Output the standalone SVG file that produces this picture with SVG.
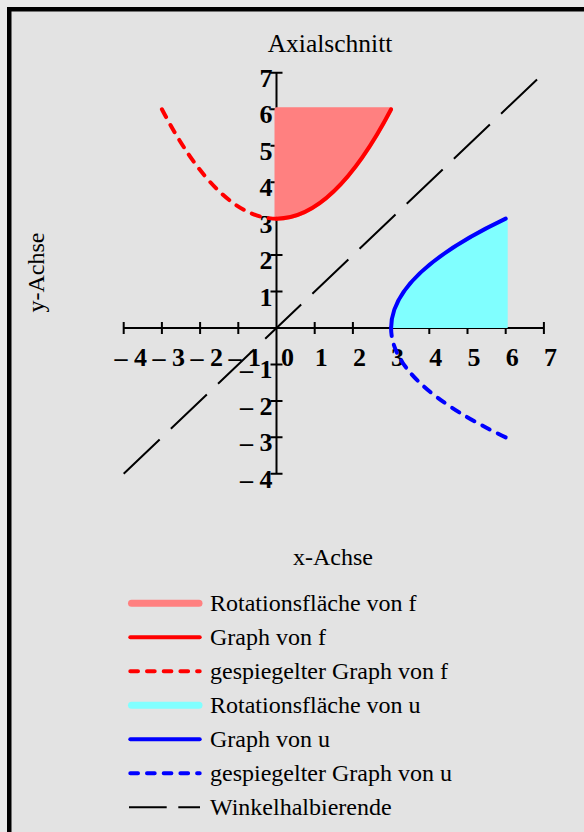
<svg xmlns="http://www.w3.org/2000/svg" width="584" height="832" viewBox="0 0 584 832">
<style>
.lbl{font-family:"Liberation Serif","Times New Roman",serif;font-size:24px;fill:#000}
.num{font-family:"Liberation Serif","Times New Roman",serif;font-size:26px;font-weight:bold;fill:#000}
.ax{stroke:#000;stroke-width:2;fill:none}
.red{stroke:#ff0000;stroke-width:4;fill:none;stroke-linecap:round}
.blue{stroke:#0000ff;stroke-width:4;fill:none;stroke-linecap:round}
.dash{stroke-dasharray:8.5 9}
.ldash{stroke-dasharray:7.7 9}
</style>
<g id="frame">
<rect x="0" y="0" width="584" height="832" fill="#eaeaea"/>
<rect x="7" y="7" width="577" height="825" fill="#000"/>
<rect x="11.5" y="11.5" width="572.5" height="820.5" fill="#e3e3e3"/>
</g>
<g id="titles">
<text class="lbl" x="330" y="52" text-anchor="middle" style="font-size:25.5px">Axialschnitt</text>
<text class="lbl" x="333" y="565" text-anchor="middle">x-Achse</text>
<text class="lbl" transform="translate(43.5,272.5) rotate(-90)" text-anchor="middle">y-Achse</text>
</g>
<g id="axes">
<path class="ax" d="M123.7,328H543.9M276.5,72.85V473.8"/>
<path class="ax" d="M123.7,322v12M161.9,322v12M200.1,322v12M238.3,322v12M314.7,322v12M352.9,322v12M391.1,322v12M429.3,322v12M467.5,322v12M505.7,322v12M543.9,322v12"/>
<path class="ax" d="M270.5,72.85h12M270.5,109.3h12M270.5,145.75h12M270.5,182.2h12M270.5,218.65h12M270.5,255.1h12M270.5,291.55h12M270.5,364.45h12M270.5,400.9h12M270.5,437.35h12M270.5,473.8h12"/>
</g>
<g id="xlabels" class="num">
<text x="114.5" y="365.5">– 4</text>
<text x="152.5" y="365.5">– 3</text>
<text x="190.5" y="365.5">– 2</text>
<text x="228.5" y="365.5">– 1</text>
<text x="281" y="365.5">0</text>
<text x="314.7" y="365.5">1</text>
<text x="352.9" y="365.5">2</text>
<text x="391.1" y="365.5">3</text>
<text x="429.3" y="365.5">4</text>
<text x="467.5" y="365.5">5</text>
<text x="505.7" y="365.5">6</text>
<text x="543.9" y="365.5">7</text>
</g>
<g id="ylabels" class="num" text-anchor="end">
<text x="272.5" y="86.85">7</text>
<text x="272.5" y="123.3">6</text>
<text x="272.5" y="159.75">5</text>
<text x="272.5" y="196.2">4</text>
<text x="272.5" y="232.65">3</text>
<text x="272.5" y="269.1">2</text>
<text x="272.5" y="305.55">1</text>
<text x="272.5" y="378.45">– 1</text>
<text x="272.5" y="414.9">– 2</text>
<text x="272.5" y="451.35">– 3</text>
<text x="272.5" y="487.8">– 4</text>
</g>
<g id="winkelhalbierende">
<line x1="123.7" y1="473.8" x2="543.9" y2="72.85" stroke="#000" stroke-width="2" stroke-dasharray="49.7 15.5"/>
</g>
<g id="rotationsflaeche-f">
<path d="M276.5,109.3L391.1,109.3Q333.8,218.65 276.5,218.65Z" fill="#ff8080" stroke="#ff8080" stroke-width="4" stroke-linejoin="round"/>
</g>
<g id="graph-f">
<path class="red" d="M276.5,218.65Q333.8,218.65 391.1,109.3"/>
</g>
<g id="gespiegelt-f">
<path class="red dash" d="M161.9,109.3Q219.2,218.65 276.5,218.65"/>
</g>
<g id="rotationsflaeche-u">
<path d="M391.1,328Q391.1,273.3 505.7,218.65L507.7,218.65L507.7,328Z" fill="#80ffff"/>
</g>
<g id="graph-u">
<path class="blue" d="M391.1,328Q391.1,273.3 505.7,218.65"/>
</g>
<g id="gespiegelt-u">
<path class="blue dash" d="M505.7,437.35Q391.1,382.7 391.1,328"/>
</g>
<g id="legend">
<g id="leg1"><line x1="131.5" y1="603.3" x2="199" y2="603.3" stroke="#ff8080" stroke-width="7" stroke-linecap="round"/><text class="lbl" x="210" y="610.5">Rotationsfläche von f</text></g>
<g id="leg2"><line class="red" x1="130.3" y1="637.3" x2="199.7" y2="637.3"/><text class="lbl" x="210" y="644.5">Graph von f</text></g>
<g id="leg3"><line class="red ldash" x1="130.3" y1="671.3" x2="199.7" y2="671.3"/><text class="lbl" x="210" y="678.5">gespiegelter Graph von f</text></g>
<g id="leg4"><line x1="131.5" y1="705.3" x2="199" y2="705.3" stroke="#80ffff" stroke-width="7" stroke-linecap="round"/><text class="lbl" x="210" y="712.5">Rotationsfläche von u</text></g>
<g id="leg5"><line class="blue" x1="130.3" y1="739.3" x2="199.7" y2="739.3"/><text class="lbl" x="210" y="746.5">Graph von u</text></g>
<g id="leg6"><line class="blue ldash" x1="130.3" y1="773.3" x2="199.7" y2="773.3"/><text class="lbl" x="210" y="780.5">gespiegelter Graph von u</text></g>
<g id="leg7"><line x1="129" y1="807.3" x2="200" y2="807.3" stroke="#000" stroke-width="2" stroke-dasharray="37.7 11.6"/><text class="lbl" x="210" y="814.5">Winkelhalbierende</text></g>
</g>
</svg>
